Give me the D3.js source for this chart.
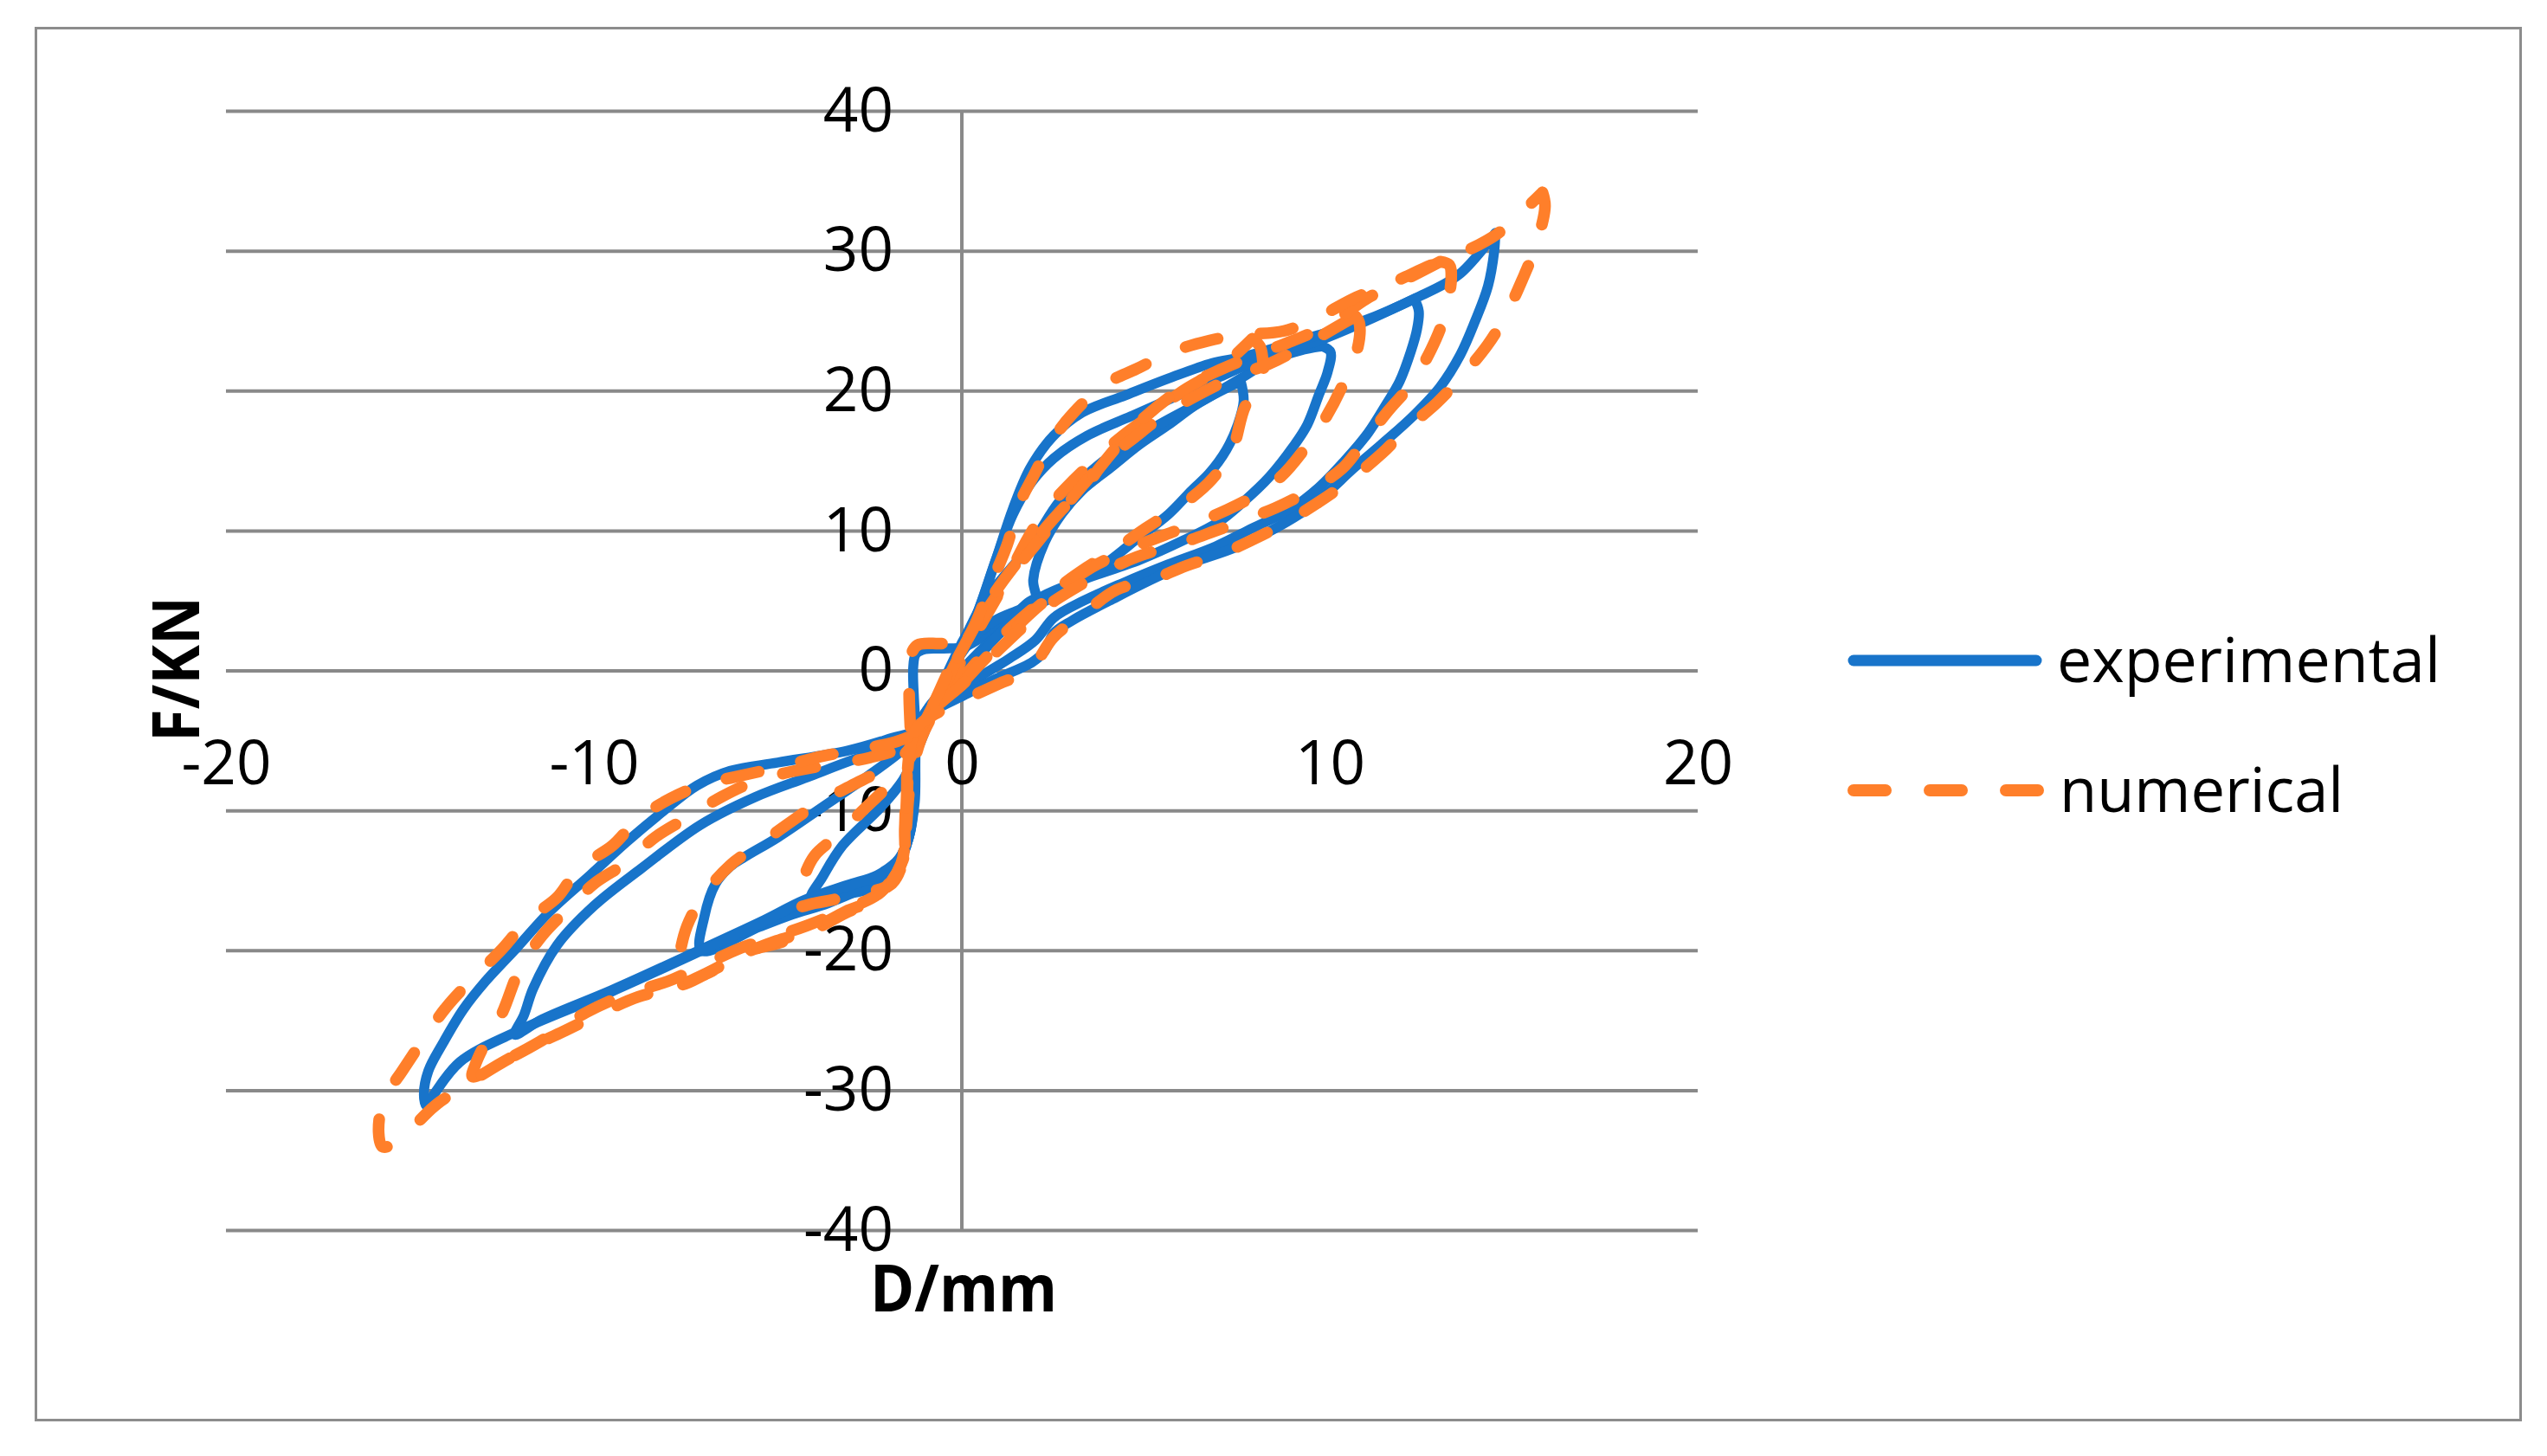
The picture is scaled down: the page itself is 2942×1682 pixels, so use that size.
<!DOCTYPE html>
<html>
<head>
<meta charset="utf-8">
<script src="https://cdn.jsdelivr.net/npm/d3@7"></script>
<style>
  html, body { margin: 0; padding: 0; background: #fff; }
  svg { display: block; }
  text { font-family: "Open Sans", "Noto Sans", sans-serif; fill: #000; }
</style>
</head>
<body>
<svg id="chart" width="2942" height="1682"></svg>
<script>
// ---------------- data ----------------
const xTicks = [-20, -10, 0, 10, 20];
const yTicks = [-40, -30, -20, -10, 0, 10, 20, 30, 40];
const seriesNames = ["experimental", "numerical"];

// experimental (blue) hysteresis loops, [D (mm), F (kN)]
const expLoop0 = [[-1.25,-4.0],[-1.3,-2.0],[-1.32,0.3],[-1.25,1.2],[-1.0,1.55],[-0.5,1.6],[0.05,1.7],[0.53,2.37],[0.92,2.99],[1.4,3.9],[1.78,4.85],[2.1,5.3]];
const expLoop1 = [[7.58,20.7],[7.66,19.3],[7.5,17.6],[7.19,15.8],[6.72,14.1],[6.25,12.9],[5.62,11.2],[4.84,9.6],[4.05,7.94],[3.27,6.5],[2.64,5.47],[2.17,4.85],[1.5,3.6],[0.9,2.4],[0.3,0.9],[-0.3,-0.8],[-0.9,-2.6],[-1.2,-4.2],[-1.28,-9.4],[-1.44,-11.9],[-1.75,-13.9],[-2.3,-15.4],[-3.0,-15.9],[-4.1,-16.3],[-3.79,-14.75],[-3.24,-12.48],[-2.22,-9.8],[-1.6,-7.8],[-1.2,-5.6],[-0.8,-3.0],[-0.3,0.0],[0.3,2.3],[0.9,3.6],[1.5,4.3],[2.02,4.85],[1.94,6.5],[2.25,9.18],[2.72,11.24],[3.27,12.9],[4.05,14.54],[4.84,16.2],[5.62,17.6],[6.41,19.1],[7.58,20.7]];
const expLoop2 = [[9.8,23.2],[10.02,22.8],[9.94,21.35],[9.7,19.7],[9.39,17.6],[9.0,16.0],[8.37,13.9],[7.66,12.1],[6.96,10.6],[6.0,9.3],[4.84,7.94],[3.27,6.5],[2.17,5.3],[1.6,4.2],[1.0,2.6],[0.3,0.6],[-0.4,-1.4],[-1.0,-3.0],[-1.25,-4.5],[-1.3,-8.5],[-1.44,-11.9],[-1.75,-13.9],[-2.3,-15.0],[-3.63,-16.6],[-4.6,-17.4],[-5.5,-18.3],[-7.08,-20.0],[-7.0,-17.6],[-6.69,-15.2],[-6.3,-14.0],[-5.9,-13.3],[-5.0,-11.9],[-3.8,-9.76],[-2.6,-7.6],[-1.55,-5.5],[-1.1,-4.0],[-0.6,-1.5],[-0.02,1.75],[0.5,4.5],[1.0,6.3],[1.55,8.0],[2.02,9.6],[2.64,12.07],[3.27,13.7],[4.05,15.4],[5.23,17.4],[6.41,19.1],[7.58,20.9],[8.4,22.2],[9.2,22.9],[9.8,23.2]];
const expLoop3 = [[12.3,26.6],[12.42,25.7],[12.37,24.4],[12.2,22.8],[11.9,20.7],[11.5,18.9],[11.04,17.0],[10.4,15.0],[9.7,13.1],[8.9,11.5],[7.9,10.2],[6.9,8.9],[5.6,7.6],[4.4,6.3],[3.3,5.0],[2.5,3.8],[2.0,2.2],[1.3,0.9],[0.5,-0.4],[-0.4,-1.9],[-1.0,-3.2],[-1.25,-4.5],[-1.3,-8.0],[-1.4,-11.5],[-1.7,-13.4],[-2.3,-14.6],[-3.1,-15.3],[-4.3,-16.4],[-5.36,-17.8],[-7.08,-19.9],[-9.5,-22.8],[-11.4,-24.9],[-12.15,-26.0],[-11.9,-24.6],[-11.65,-22.7],[-11.0,-19.6],[-10.0,-16.8],[-8.7,-14.1],[-7.1,-11.0],[-5.6,-9.0],[-4.2,-7.6],[-3.0,-6.4],[-1.9,-5.4],[-1.25,-4.8],[-0.9,-3.3],[-0.45,-0.8],[-0.02,1.75],[0.37,3.8],[0.92,7.9],[1.39,11.2],[1.9,13.5],[2.5,15.2],[3.4,16.8],[4.6,18.2],[5.8,19.6],[7.0,21.0],[8.4,22.6],[9.7,23.6],[10.9,24.9],[12.3,26.6]];
const expLoop4 = [[14.5,31.3],[14.47,30.0],[14.3,27.5],[13.95,25.0],[13.55,22.6],[13.0,20.3],[12.3,18.3],[11.5,16.4],[10.7,14.6],[9.4,11.6],[7.6,9.0],[5.8,7.3],[4.0,5.0],[3.0,3.6],[2.5,2.7],[2.25,1.4],[1.9,0.6],[0.9,-0.6],[0.05,-1.75],[-0.8,-2.9],[-1.2,-3.8],[-1.28,-6.0],[-1.3,-9.4],[-1.45,-11.9],[-1.75,-13.6],[-2.3,-14.7],[-3.1,-15.4],[-4.3,-16.5],[-5.36,-17.9],[-7.08,-20.0],[-9.5,-22.9],[-12.2,-25.9],[-13.64,-27.95],[-14.33,-30.2],[-14.55,-31.1],[-14.62,-30.3],[-14.5,-28.6],[-14.1,-26.6],[-13.55,-24.2],[-12.95,-22.2],[-12.1,-19.8],[-11.2,-17.2],[-10.1,-14.6],[-9.1,-12.2],[-8.1,-10.0],[-7.2,-8.2],[-6.3,-7.15],[-5.0,-6.55],[-3.1,-5.7],[-1.9,-4.8],[-1.2,-4.2],[-0.8,-2.6],[-0.4,-0.2],[-0.02,1.9],[0.37,3.8],[0.92,7.9],[1.39,11.6],[1.86,14.5],[2.49,16.8],[3.27,18.46],[4.45,19.7],[5.62,20.9],[6.8,22.0],[7.58,22.4],[8.4,23.0],[9.7,24.0],[10.9,25.0],[12.3,26.6],[13.5,28.3],[14.5,31.3]];

// numerical (orange, dashed) hysteresis loops, [D (mm), F (kN)]
const numLoop0 = [[-1.4,-4.0],[-1.43,-2.0],[-1.43,-0.7],[-1.4,1.0],[-1.2,1.85],[-0.6,1.95],[-0.1,1.96]];
const numLoop1 = [[7.9,23.75],[8.1,23.2],[8.17,22.4],[8.17,20.7],[7.7,18.9],[7.35,15.8],[6.8,13.7],[6.09,12.07],[5.0,10.2],[4.21,8.76],[3.4,7.4],[2.7,6.1],[2.0,4.6],[1.3,3.0],[0.6,1.2],[0.0,-0.6],[-0.6,-2.4],[-1.1,-4.8],[-1.4,-8.0],[-1.51,-11.2],[-1.59,-13.5],[-1.9,-15.2],[-2.5,-15.8],[-3.2,-16.2],[-4.0,-16.6],[-4.5,-16.8],[-4.3,-14.8],[-4.0,-13.2],[-3.4,-11.8],[-2.7,-10.0],[-2.0,-8.2],[-1.5,-6.6],[-1.0,-4.2],[-0.5,-1.8],[0.0,0.8],[0.5,3.2],[1.0,5.5],[1.4,7.5],[1.8,9.5],[2.2,11.2],[2.8,13.0],[3.5,14.8],[4.37,16.8],[5.2,18.4],[6.0,20.0],[7.0,21.6],[7.9,23.75]];
const numLoop2 = [[10.7,25.35],[10.8,24.9],[10.76,23.1],[10.33,20.3],[9.9,18.15],[9.23,15.57],[8.68,13.9],[8.0,12.6],[7.2,11.5],[6.0,10.2],[5.0,9.2],[4.2,8.3],[3.4,7.2],[2.6,5.7],[1.9,4.2],[1.2,2.4],[0.5,0.5],[-0.2,-1.5],[-0.9,-3.5],[-1.4,-6.5],[-1.5,-10.0],[-1.6,-13.5],[-2.3,-16.2],[-3.16,-17.3],[-4.18,-18.7],[-5.04,-19.5],[-5.75,-20.0],[-6.9,-21.6],[-7.7,-22.4],[-7.7,-20.9],[-7.47,-18.25],[-7.0,-16.0],[-6.3,-13.9],[-5.5,-12.4],[-4.65,-10.8],[-3.87,-9.4],[-3.0,-8.2],[-2.2,-7.1],[-1.5,-5.8],[-1.0,-3.8],[-0.5,-1.2],[0.0,1.4],[0.5,3.6],[1.0,5.6],[1.5,7.4],[2.0,9.0],[2.6,11.0],[3.2,13.0],[3.9,15.0],[4.7,16.7],[5.5,18.3],[6.4,19.7],[7.4,21.0],[8.4,22.0],[9.4,23.4],[10.2,24.6],[10.7,25.35]];
const numLoop3 = [[13.0,29.25],[13.25,29.0],[13.3,28.0],[13.11,25.3],[12.76,23.0],[12.21,20.5],[11.58,18.56],[10.88,16.2],[10.33,14.44],[9.39,12.8],[8.53,11.65],[7.9,11.0],[6.88,10.0],[6.02,9.18],[4.76,8.15],[3.8,7.0],[3.0,5.8],[2.3,4.6],[1.6,3.0],[0.8,1.0],[0.0,-1.0],[-0.7,-2.6],[-1.3,-4.5],[-1.5,-8.0],[-1.55,-11.2],[-1.6,-13.5],[-2.2,-15.8],[-3.0,-16.9],[-4.2,-18.2],[-5.1,-19.0],[-6.0,-19.8],[-7.0,-21.0],[-8.0,-22.2],[-9.0,-23.0],[-10.2,-24.4],[-11.47,-26.5],[-12.49,-27.95],[-13.3,-29.0],[-13.2,-28.0],[-12.95,-26.6],[-12.5,-24.5],[-12.02,-21.35],[-11.4,-18.9],[-10.7,-17.0],[-9.99,-15.2],[-9.12,-13.7],[-8.34,-11.9],[-7.47,-10.5],[-6.53,-9.0],[-5.67,-7.94],[-4.8,-7.3],[-3.6,-6.7],[-2.5,-6.2],[-1.6,-5.4],[-1.1,-4.0],[-0.6,-1.5],[-0.1,1.0],[0.4,3.4],[0.9,5.6],[1.4,7.4],[1.9,9.0],[2.4,10.6],[2.9,12.0],[3.27,12.8],[3.74,14.5],[4.37,16.5],[5.0,18.2],[6.0,20.2],[7.0,21.5],[8.0,22.6],[9.0,23.6],[10.0,24.8],[11.0,26.6],[12.0,27.9],[13.0,29.25]];
const numLoop4 = [[15.78,34.2],[15.85,33.2],[15.6,30.4],[15.23,27.95],[14.76,25.3],[14.29,23.3],[13.55,20.94],[12.92,19.18],[12.05,17.2],[11.43,15.57],[10.53,13.6],[9.82,12.27],[8.8,10.6],[8.0,9.5],[7.04,8.35],[6.09,7.5],[5.15,6.5],[4.21,5.8],[3.27,4.0],[2.49,2.4],[1.86,0.1],[1.0,-0.93],[0.2,-1.9],[-0.6,-2.9],[-1.2,-4.0],[-1.45,-6.0],[-1.5,-9.0],[-1.55,-12.0],[-1.65,-13.8],[-2.3,-16.2],[-3.16,-17.2],[-4.18,-18.6],[-5.04,-19.3],[-5.9,-20.2],[-6.93,-21.6],[-7.8,-22.6],[-8.8,-23.3],[-9.6,-24.2],[-10.77,-25.7],[-11.5,-26.6],[-12.5,-28.0],[-13.3,-29.3],[-14.33,-31.1],[-15.1,-33.1],[-15.5,-33.9],[-15.75,-34.0],[-15.85,-33.0],[-15.72,-30.7],[-15.21,-28.6],[-14.6,-26.2],[-14.0,-24.0],[-13.3,-22.0],[-12.5,-19.9],[-11.8,-17.8],[-11.0,-16.2],[-10.4,-14.1],[-9.5,-12.5],[-8.8,-10.6],[-7.9,-9.1],[-7.0,-8.1],[-6.2,-7.6],[-5.0,-6.9],[-3.8,-6.1],[-2.95,-5.7],[-1.72,-5.0],[-1.2,-4.3],[-0.8,-2.5],[-0.3,0.3],[0.3,3.0],[0.84,6.5],[1.23,9.0],[1.55,11.84],[1.94,13.9],[2.49,16.6],[3.04,18.46],[3.9,20.5],[4.76,21.6],[5.7,22.8],[6.72,23.6],[7.5,24.0],[8.76,24.3],[9.7,25.3],[10.72,26.7],[11.66,27.7],[12.76,29.0],[13.7,30.0],[14.56,31.25],[15.31,33.0],[15.78,34.2]];

const expLoops = [expLoop0, expLoop1, expLoop2, expLoop3, expLoop4];
const numLoops = [numLoop0, numLoop1, numLoop2, numLoop3, numLoop4];

// ---------------- drawing ----------------
const svg = d3.select("#chart");
const W = 2942, H = 1682;
const BLUE = "#1874CA", ORANGE = "#FF7F2A", GRID = "#898989";

svg.append("rect").attr("width", W).attr("height", H).attr("fill", "#fff");
svg.append("rect")
  .attr("x", 41.5).attr("y", 32.5).attr("width", 2870).attr("height", 1608)
  .attr("fill", "none").attr("stroke", "#8c8c8c").attr("stroke-width", 3);

const x = d3.scaleLinear().domain([-20, 20]).range([261, 1961]);
const y = d3.scaleLinear().domain([-40, 40]).range([1421.5, 128.5]);

// horizontal gridlines
svg.append("g").selectAll("line").data(yTicks).join("line")
  .attr("x1", x(-20)).attr("x2", x(20))
  .attr("y1", d => y(d)).attr("y2", d => y(d))
  .attr("stroke", GRID).attr("stroke-width", 4);

// vertical axis line at D = 0
svg.append("line")
  .attr("x1", x(0)).attr("x2", x(0)).attr("y1", y(40)).attr("y2", y(-40))
  .attr("stroke", GRID).attr("stroke-width", 4);

// axes (labels only)
const yAxis = d3.axisLeft(y).tickValues(yTicks).tickSize(0).tickPadding(79).tickFormat(d3.format("d"));
const gy = svg.append("g").attr("transform", `translate(${x(0)},0)`).call(yAxis);
gy.select(".domain").remove();
gy.selectAll("text").attr("font-size", 71).attr("font-family", "Open Sans").attr("fill", "#000");

const xAxis = d3.axisBottom(x).tickValues(xTicks).tickSize(0).tickPadding(81).tickFormat(d3.format("d"));
const gx = svg.append("g").attr("transform", `translate(0,${y(0)})`).call(xAxis);
gx.select(".domain").remove();
gx.selectAll("text").attr("font-size", 71).attr("font-family", "Open Sans").attr("fill", "#000");

// hyphen-minus like the original
svg.selectAll(".tick text").text(function() { return this.textContent.replace("\u2212", "-"); });

// series
const line = d3.line().x(d => x(d[0])).y(d => y(d[1])).curve(d3.curveCatmullRom.alpha(0.5));

svg.append("g").selectAll("path").data(expLoops).join("path")
  .attr("d", line).attr("fill", "none").attr("stroke", BLUE)
  .attr("stroke-width", 11.5).attr("stroke-linejoin", "round").attr("stroke-linecap", "round");

svg.append("g").selectAll("path").data(numLoops).join("path")
  .attr("d", line).attr("fill", "none").attr("stroke", ORANGE)
  .attr("stroke-width", 13.5).attr("stroke-linejoin", "round").attr("stroke-linecap", "round")
  .attr("stroke-dasharray", "38,50");

// axis titles
svg.append("text").attr("x", 1113).attr("y", 1515).attr("text-anchor", "middle")
  .attr("font-size", 76).attr("font-weight", "bold").attr("textLength", 216).attr("lengthAdjust", "spacingAndGlyphs")
  .text("D/mm");
svg.append("text").attr("transform", "translate(230,773) rotate(-90)").attr("text-anchor", "middle")
  .attr("font-size", 76).attr("font-weight", "bold").attr("textLength", 168).attr("lengthAdjust", "spacingAndGlyphs")
  .text("F/KN");

// legend
const legend = svg.append("g");
const legY = [763, 913];
legend.append("line").attr("x1", 2141).attr("x2", 2352).attr("y1", legY[0]).attr("y2", legY[0])
  .attr("stroke", BLUE).attr("stroke-width", 13).attr("stroke-linecap", "round");
legend.append("line").attr("x1", 2141).attr("x2", 2354).attr("y1", legY[1]).attr("y2", legY[1])
  .attr("stroke", ORANGE).attr("stroke-width", 14).attr("stroke-linecap", "round")
  .attr("stroke-dasharray", "37,51");
legend.selectAll("text").data(seriesNames).join("text")
  .attr("x", (d, i) => i === 0 ? 2376 : 2379)
  .attr("y", (d, i) => legY[i] + 24.5)
  .attr("font-size", 71)
  .attr("textLength", (d, i) => i === 0 ? 443 : 328).attr("lengthAdjust", "spacingAndGlyphs")
  .text(d => d);
</script>
</body>
</html>
